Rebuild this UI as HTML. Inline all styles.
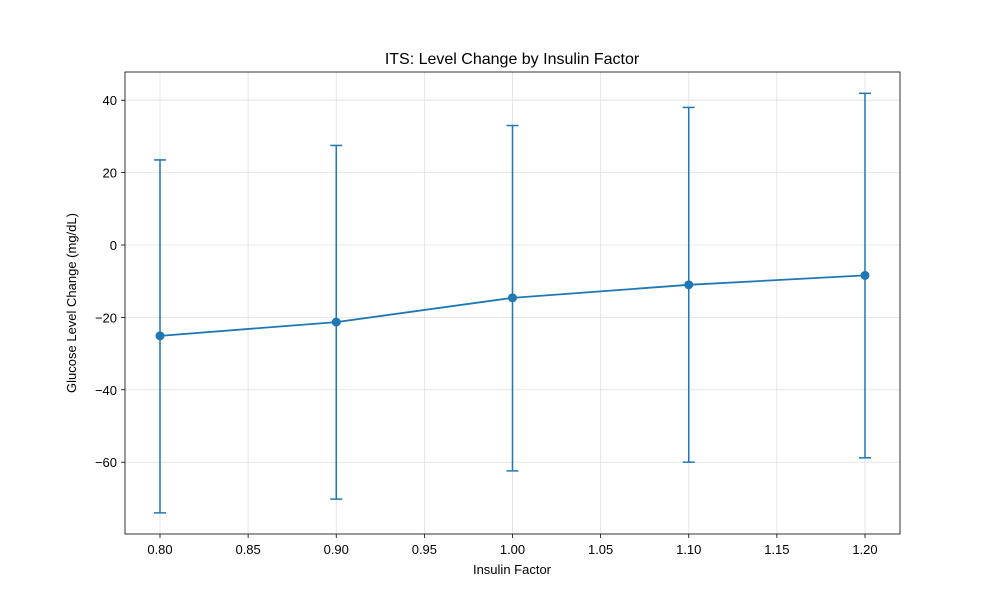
<!DOCTYPE html>
<html><head><meta charset="utf-8"><style>
body{margin:0;background:#fff;}
svg text{font-family:"Liberation Sans","DejaVu Sans",sans-serif;fill:#000;}
</style></head><body>
<svg id="chart" width="1000" height="600" xmlns="http://www.w3.org/2000/svg">
<rect width="1000" height="600" fill="#fff"/>
<g id="grid"></g>
<g id="marks"></g>
<rect x="125" y="72" width="775" height="462" fill="none" stroke="#000" stroke-width="0.8"/>
<g id="axes"></g>
<text x="512" y="64" font-size="16" text-anchor="middle">ITS: Level Change by Insulin Factor</text>
<text x="512" y="574" font-size="13" text-anchor="middle">Insulin Factor</text>
<text transform="translate(76,303) rotate(-90)" font-size="13" text-anchor="middle">Glucose Level Change (mg/dL)</text>
</svg>
<script>
const factors=[0.80,0.90,1.00,1.10,1.20];
const means=[-25.1,-21.3,-14.6,-11.0,-8.4];
const lowers=[-74.0,-70.2,-62.4,-60.0,-58.8];
const uppers=[23.5,27.5,33.0,38.0,41.9];
const xTicks=[0.80,0.85,0.90,0.95,1.00,1.05,1.10,1.15,1.20];
const yTicks=[-60,-40,-20,0,20,40];
const NS="http://www.w3.org/2000/svg";
function X(v){return 160+(v-0.8)/0.4*705;}
function Y(v){return 245-v*3.62;}
function mk(t,a,p){const e=document.createElementNS(NS,t);for(const k in a)e.setAttribute(k,a[k]);p.appendChild(e);return e;}
const grid=document.getElementById('grid'),axes=document.getElementById('axes'),marks=document.getElementById('marks');
xTicks.forEach(t=>{const x=X(t);
 const g=mk('line',{x1:x,x2:x,y1:72,y2:534,stroke:'#e0e0e0','stroke-width':0.8},grid);
 
 mk('line',{x1:x,x2:x,y1:534,y2:538,stroke:'#000','stroke-width':0.8},axes);
 const tx=mk('text',{x:x,y:554,'font-size':13,'text-anchor':'middle'},axes);tx.textContent=t.toFixed(2);
 });
yTicks.forEach(t=>{const y=Y(t);
 const g=mk('line',{x1:125,x2:900,y1:y,y2:y,stroke:'#e0e0e0','stroke-width':0.8},grid);
 
 mk('line',{x1:121,x2:125,y1:y,y2:y,stroke:'#000','stroke-width':0.8},axes);
 const tx=mk('text',{x:117,y:y+5,'font-size':13,'text-anchor':'end'},axes);tx.textContent=t<0?'\u2212'+Math.abs(t):String(t);
 });
const c='#1f77b4';
factors.forEach((f,i)=>{const x=X(f);
 const e=mk('line',{x1:x,x2:x,y1:Y(lowers[i]),y2:Y(uppers[i]),stroke:c,'stroke-width':1.5},marks);
 
 [lowers[i],uppers[i]].forEach(v=>{mk('line',{x1:x-6,x2:x+6,y1:Y(v),y2:Y(v),stroke:c,'stroke-width':1.5},marks);});});
const pl=mk('polyline',{points:factors.map((f,i)=>X(f)+','+Y(means[i])).join(' '),fill:'none',stroke:c,'stroke-width':1.8},marks);

factors.forEach((f,i)=>{const p=mk('circle',{cx:X(f),cy:Y(means[i]),r:4.5,fill:c},marks);
 });
</script>
</body></html>
